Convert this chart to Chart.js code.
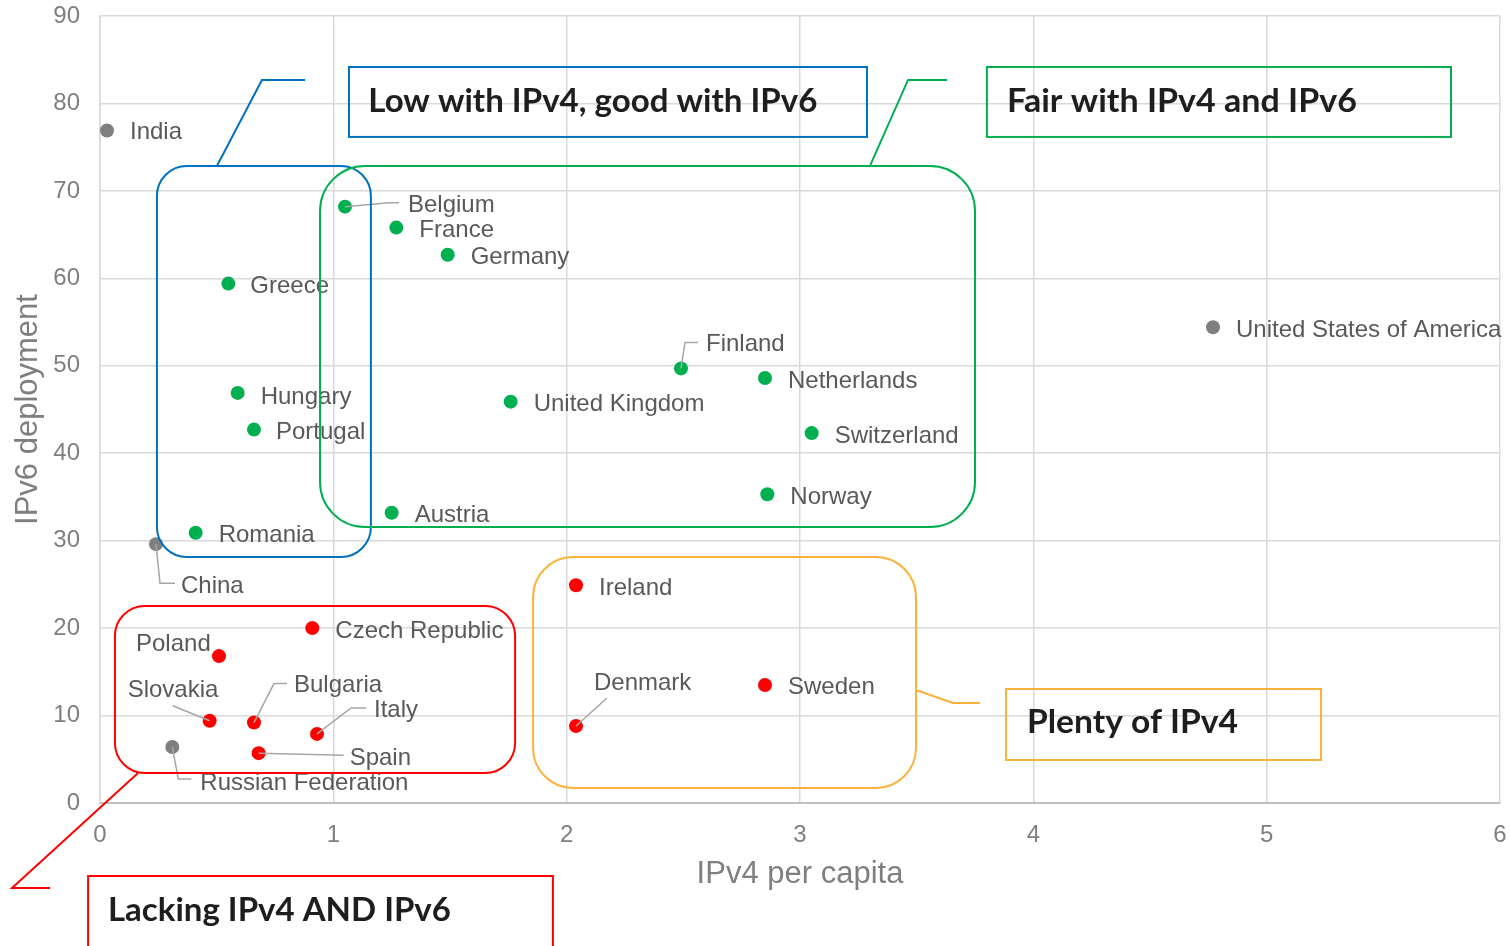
<!DOCTYPE html>
<html>
<head>
<meta charset="utf-8">
<script src="https://cdn.jsdelivr.net/npm/chart.js@4.4.0/dist/chart.umd.min.js"></script>
<style>
  html, body { margin: 0; padding: 0; background: #ffffff; }
  #wrap { width: 1510px; height: 946px; }
</style>
</head>
<body>
<div id="wrap"><canvas id="c" width="1510" height="946"></canvas></div>
<script>
// ---------------- DATA ----------------
const xTicks = [0, 1, 2, 3, 4, 5, 6];
const yTicks = [0, 10, 20, 30, 40, 50, 60, 70, 80, 90];

const otherNames = ["India", "China", "Russian Federation", "United States of America"];
const otherIPv4  = [0.03, 0.24, 0.31, 4.77];
const otherIPv6  = [76.9, 29.6, 6.4, 54.4];

const fairNames = ["Belgium", "France", "Germany", "Greece", "Hungary", "Portugal", "Romania",
                   "Austria", "United Kingdom", "Finland", "Netherlands", "Switzerland", "Norway"];
const fairIPv4  = [1.05, 1.27, 1.49, 0.55, 0.59, 0.66, 0.41, 1.25, 1.76, 2.49, 2.85, 3.05, 2.86];
const fairIPv6  = [68.2, 65.8, 62.7, 59.4, 46.9, 42.7, 30.9, 33.2, 45.9, 49.7, 48.6, 42.3, 35.3];

const lowNames = ["Ireland", "Denmark", "Sweden", "Czech Republic", "Poland", "Slovakia",
                  "Bulgaria", "Italy", "Spain"];
const lowIPv4  = [2.04, 2.04, 2.85, 0.91, 0.51, 0.47, 0.66, 0.93, 0.68];
const lowIPv6  = [24.9, 8.8, 13.5, 20.0, 16.8, 9.4, 9.2, 7.9, 5.7];

// ---------------- LAYOUT / STYLE ----------------
// label offsets in px from the point, with optional leader polyline (px offsets)
const labelLayout = {
  "India": {dx: 23, dy: 0},
  "China": {dx: 25, dy: 40, leader: [[0,0],[4,39],[19,39]]},
  "Russian Federation": {dx: 28, dy: 34, leader: [[0,0],[6,32],[19,32]]},
  "United States of America": {dx: 23, dy: 1},
  "Belgium": {dx: 63, dy: -3, leader: [[0,0],[44,-4],[54,-4]]},
  "France": {dx: 23, dy: 1},
  "Germany": {dx: 23, dy: 1},
  "Greece": {dx: 22, dy: 1},
  "Hungary": {dx: 23, dy: 2},
  "Portugal": {dx: 22, dy: 1},
  "Romania": {dx: 23, dy: 1},
  "Austria": {dx: 23, dy: 1},
  "United Kingdom": {dx: 23, dy: 1},
  "Finland": {dx: 25, dy: -26, leader: [[0,0],[4,-26],[17,-26]]},
  "Netherlands": {dx: 23, dy: 1},
  "Switzerland": {dx: 23, dy: 1},
  "Norway": {dx: 23, dy: 1},
  "Ireland": {dx: 23, dy: 1},
  "Denmark": {dx: 18, dy: -45, leader: [[0,0],[31,-28]]},
  "Sweden": {dx: 23, dy: 0},
  "Czech Republic": {dx: 23, dy: 1},
  "Poland": {dx: -83, dy: -14},
  "Slovakia": {dx: -82, dy: -32, leader: [[0,0],[-37,-15]]},
  "Bulgaria": {dx: 40, dy: -39, leader: [[0,0],[20,-39],[33,-39]]},
  "Italy": {dx: 57, dy: -26, leader: [[0,0],[34,-26],[49,-26]]},
  "Spain": {dx: 91, dy: 3, leader: [[0,0],[85,2]]}
};
const LABEL_Y_SHIFT = 2;

// annotation groups in data units
const annotations = [
  { color: "#0070C0", box: [0.244, 72.85, 1.161, 28.13], radius: 30,
    callout: [[0.501, 72.85], [0.694, 82.69], [0.879, 82.69]],
    textBox: [1.067, 84.17, 3.287, 76.17], text: "Low with IPv4, good with IPv6",
    textX: 1.15, textBaseline: 79.0, textW: 449 },
  { color: "#00B050", box: [0.943, 72.85, 3.750, 31.56], radius: 45,
    callout: [[3.300, 72.85], [3.463, 82.69], [3.630, 82.69]],
    textBox: [3.801, 84.17, 5.790, 76.17], text: "Fair with IPv4 and IPv6",
    textX: 3.887, textBaseline: 79.0, textW: 350 },
  { color: "#FF0000", box: [0.064, 22.53, 1.779, 3.43], radius: 30,
    callout: [[0.163, 3.43], [-0.377, -9.72], [-0.214, -9.72]],
    textBox: [-0.051, -8.35, 1.941, -16.70], text: "Lacking IPv4 AND IPv6",
    textX: 0.034, textBaseline: -13.49, textW: 343 },
  { color: "#FBB23A", box: [1.856, 28.13, 3.497, 1.715], radius: 40,
    callout: [[3.497, 12.92], [3.656, 11.44], [3.771, 11.44]],
    textBox: [3.883, 13.04, 5.233, 4.92], text: "Plenty of IPv4",
    textX: 3.973, textBaseline: 8.0, textW: 211 }
];

const COL_OTHER = "#7F7F7F", COL_FAIR = "#00B050", COL_LOW = "#FF0000";
const LABEL_FONT = "24px 'Liberation Sans', Arial, sans-serif";
const LABEL_COLOR = "#595959";

function toPoints(xs, ys) { return xs.map((x, i) => ({x: x, y: ys[i]})); }

const labelPlugin = {
  id: "labelsAndAnnotations",
  afterDatasetsDraw(chart) {
    const ctx = chart.ctx;
    const xs = chart.scales.x, ys = chart.scales.y;
    const px = v => xs.getPixelForValue(v);
    const py = v => ys.getPixelForValue(v);
    ctx.save();
    chart.data.datasets.forEach((ds, di) => {
      const meta = chart.getDatasetMeta(di);
      meta.data.forEach((el, i) => {
        const name = ds.names[i];
        const L = labelLayout[name] || {dx: 23, dy: 0};
        if (L.leader) {
          ctx.beginPath();
          ctx.strokeStyle = "#A6A6A6";
          ctx.lineWidth = 1.5;
          L.leader.forEach((p, k) => {
            if (k === 0) ctx.moveTo(el.x + p[0], el.y + p[1]);
            else ctx.lineTo(el.x + p[0], el.y + p[1]);
          });
          ctx.stroke();
        }
        ctx.font = LABEL_FONT;
        ctx.fillStyle = LABEL_COLOR;
        ctx.textAlign = "left";
        ctx.textBaseline = "middle";
        ctx.fillText(name, el.x + L.dx, el.y + L.dy + LABEL_Y_SHIFT);
      });
    });
    annotations.forEach(a => {
      ctx.strokeStyle = a.color;
      ctx.lineWidth = 2;
      const x0 = px(a.box[0]), y0 = py(a.box[1]), x1 = px(a.box[2]), y1 = py(a.box[3]);
      ctx.beginPath();
      ctx.roundRect(x0, y0, x1 - x0, y1 - y0, a.radius);
      ctx.stroke();
      ctx.beginPath();
      a.callout.forEach((p, k) => {
        if (k === 0) ctx.moveTo(px(p[0]), py(p[1]));
        else ctx.lineTo(px(p[0]), py(p[1]));
      });
      ctx.stroke();
      const tx0 = px(a.textBox[0]), ty0 = py(a.textBox[1]), tx1 = px(a.textBox[2]), ty1 = py(a.textBox[3]);
      ctx.strokeRect(tx0, ty0, tx1 - tx0, ty1 - ty0);
      ctx.font = "bold 33px Lato, 'Open Sans', sans-serif";
      ctx.fillStyle = "#1E1E1E";
      ctx.textAlign = "left";
      ctx.textBaseline = "alphabetic";
      const w = ctx.measureText(a.text).width;
      const sx = a.textW / w;
      ctx.save();
      ctx.translate(px(a.textX), py(a.textBaseline));
      ctx.scale(sx, 1);
      ctx.fillText(a.text, 0, 0);
      ctx.restore();
    });
    ctx.restore();
  }
};

const tickFont = {family: "'Liberation Sans', Arial, sans-serif", size: 24};
const titleFont = {family: "'Liberation Sans', Arial, sans-serif", size: 31};

new Chart(document.getElementById("c"), {
  type: "scatter",
  data: {
    datasets: [
      { label: "Other", names: otherNames, data: toPoints(otherIPv4, otherIPv6),
        backgroundColor: COL_OTHER, borderColor: COL_OTHER, pointRadius: 7, borderWidth: 0 },
      { label: "Fair / Low with IPv4", names: fairNames, data: toPoints(fairIPv4, fairIPv6),
        backgroundColor: COL_FAIR, borderColor: COL_FAIR, pointRadius: 7, borderWidth: 0 },
      { label: "Lacking / Plenty", names: lowNames, data: toPoints(lowIPv4, lowIPv6),
        backgroundColor: COL_LOW, borderColor: COL_LOW, pointRadius: 7, borderWidth: 0 }
    ]
  },
  options: {
    responsive: false,
    animation: false,
    layout: { padding: { top: 16, right: 10, bottom: 0, left: 0 } },
    plugins: { legend: { display: false }, tooltip: { enabled: false } },
    scales: {
      x: {
        type: "linear", min: 0, max: 6,
        afterBuildTicks: s => { s.ticks = xTicks.map(v => ({value: v})); },
        afterFit: s => { s.height = 143; s.paddingLeft = 0; s.paddingRight = 0; },
        grid: { color: "#D9D9D9", lineWidth: 1.5, drawTicks: false },
        border: { color: "#BFBFBF", width: 2 },
        ticks: { font: tickFont, color: "#7F7F7F", padding: 18 },
        title: { display: true, text: "IPv4 per capita", font: titleFont, color: "#7F7F7F",
                 padding: { top: 0, bottom: 53 } }
      },
      y: {
        type: "linear", min: 0, max: 90,
        afterBuildTicks: s => { s.ticks = yTicks.map(v => ({value: v})); },
        afterFit: s => { s.width = 100; s.paddingTop = 0; s.paddingBottom = 0; },
        grid: { color: "#D9D9D9", lineWidth: 1.5, drawTicks: false },
        border: { color: "#D9D9D9", width: 1.5 },
        ticks: { font: tickFont, color: "#7F7F7F", padding: 20 },
        title: { display: true, text: "IPv6 deployment", font: titleFont, color: "#7F7F7F",
                 padding: { top: 10, bottom: 0 } }
      }
    }
  },
  plugins: [labelPlugin]
});
</script>
</body>
</html>
